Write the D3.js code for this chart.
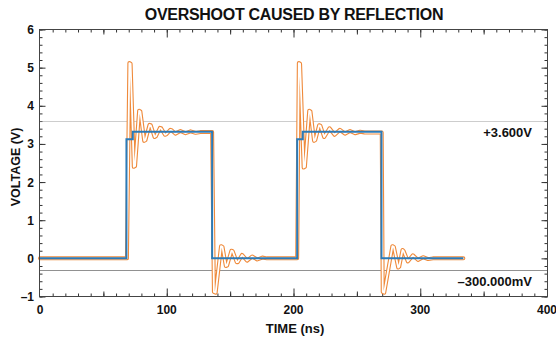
<!DOCTYPE html>
<html>
<head>
<meta charset="utf-8">
<script src="https://cdn.jsdelivr.net/npm/d3@7"></script>
<style>
  html, body { margin: 0; padding: 0; background: #fff; }
  svg { display: block; }
  text { font-family: "Liberation Sans", Arial, Helvetica, sans-serif; font-weight: bold; fill: #111; }
</style>
</head>
<body>
<svg id="chart" width="556" height="338"></svg>
<script>
// ---------------- data ----------------
const title = "OVERSHOOT CAUSED BY REFLECTION";
const xLabel = "TIME (ns)";
const yLabel = "VOLTAGE (V)";
const xTickLabels = [0, 100, 200, 300, 400];
const yTickLabels = [-1, 0, 1, 2, 3, 4, 5, 6];

// driven signal (blue)
const blueTime = [0, 68.2, 68.2, 73.2, 73.2, 135.8, 135.8, 202.9, 202.9, 207.3, 207.3, 269.4, 269.4, 334];
const blueVolt = [0, 0, 3.12, 3.12, 3.32, 3.32, 0, 0, 3.12, 3.12, 3.32, 3.32, 0, 0];

// reflected signal (orange)
const orangeTime = [
  0, 68.6, 70.5, 71.5, 74.0, 75.0, 78.2, 79.2, 82.2, 83.2, 86.4, 87.4, 90.4, 91.4,
  94.6, 95.6, 98.6, 99.6, 102.8, 103.8, 106.8, 110.8, 114.8, 118.8, 122.8, 126.5, 135.8,
  137.2, 138.6, 142.8, 144.0, 146.6, 147.6, 151.0, 152.0, 155.2, 156.0, 159.4, 163.4,
  167.4, 171.4, 175.4, 179.0, 202.9,
  204.2, 205.2, 208.0, 209.0, 212.4, 213.4, 216.2, 217.2, 220.2, 221.2, 224.2, 228.4,
  232.4, 236.6, 240.6, 244.6, 248.6, 252.6, 256.0, 269.6,
  270.4, 271.6, 278.0, 279.2, 282.6, 283.4, 286.0, 286.8, 290.2, 294.2, 298.2, 302.2,
  306.2, 310.0, 334.0
];
const orangeVolt = [
  0, 0, 5.12, 5.10, 2.40, 2.42, 3.87, 3.85, 3.08, 3.10, 3.50, 3.49, 3.18, 3.20,
  3.42, 3.41, 3.24, 3.25, 3.37, 3.36, 3.27, 3.34, 3.28, 3.33, 3.29, 3.31, 3.31,
  -0.88, -0.90, 0.32, 0.30, -0.20, -0.19, 0.20, 0.19, -0.10, -0.10, 0.09, -0.06,
  0.05, -0.03, 0.02, 0, 0,
  5.12, 5.10, 2.38, 2.40, 3.87, 3.85, 3.08, 3.10, 3.49, 3.48, 3.18, 3.41,
  3.24, 3.37, 3.27, 3.34, 3.28, 3.32, 3.30, 3.30,
  -0.88, -0.90, 0.32, 0.30, -0.24, -0.22, 0.22, 0.20, -0.08, 0.08, -0.04, 0.03,
  -0.02, 0, 0
];

// reference levels
const refLevels = [3.6, -0.3];
const refLabels = ["+3.600V", "\u2013300.000mV"];

// ---------------- chart ----------------
const svg = d3.select("#chart");
const mLeft = 39.5, mRight = 547.5, mTop = 29.5, mBottom = 296.5;

const x = d3.scaleLinear().domain([0, 400]).range([mLeft + 0.5, mRight - 0.5]);
const y = d3.scaleLinear().domain([-1, 6]).range([mBottom, mTop]);

const tickColor = "#333";

function styleAxis(g) {
  g.select(".domain").remove();
  g.selectAll(".tick line").attr("stroke", tickColor).attr("stroke-width", 1);
  g.selectAll(".tick text").remove();
}

// x ticks: bottom (inward) and top (inward)
const xMinor = d3.range(10, 400, 10);
const xMid = d3.range(50, 400, 100);
const xMaj = d3.range(100, 400, 100);
[[xMinor, 3], [xMid, 5], [xMaj, 8]].forEach(([vals, len]) => {
  svg.append("g").attr("transform", `translate(0,${mBottom})`)
    .call(d3.axisBottom(x).tickValues(vals).tickSize(-len).tickFormat("")).call(styleAxis);
  svg.append("g").attr("transform", `translate(0,${mTop})`)
    .call(d3.axisTop(x).tickValues(vals).tickSize(-len).tickFormat("")).call(styleAxis);
});
// y ticks: left and right (inward)
const yMinor = d3.range(-1, 6.001, 0.2);
const yMaj = d3.range(-1, 7, 1);
[[yMinor, 3], [yMaj, 6]].forEach(([vals, len]) => {
  svg.append("g").attr("transform", `translate(${mLeft},0)`)
    .call(d3.axisLeft(y).tickValues(vals).tickSize(-len).tickFormat("")).call(styleAxis);
  svg.append("g").attr("transform", `translate(${mRight},0)`)
    .call(d3.axisRight(y).tickValues(vals).tickSize(-len).tickFormat("")).call(styleAxis);
});

// tick labels
svg.append("g").selectAll("text").data(xTickLabels).join("text")
  .attr("x", d => x(d)).attr("y", 314)
  .attr("text-anchor", "middle").attr("font-size", 12).text(d => d);
svg.append("g").selectAll("text").data(yTickLabels).join("text")
  .attr("x", 34).attr("y", d => y(d) + 4.5)
  .attr("text-anchor", "end").attr("font-size", 12)
  .text(d => d < 0 ? "\u2013" + Math.abs(d) : d);

// reference dotted lines
const snap = v => Math.round(v) + 0.5;
svg.append("line").attr("x1", mLeft).attr("x2", mRight)
  .attr("y1", snap(y(refLevels[0]))).attr("y2", snap(y(refLevels[0])))
  .attr("stroke", "#9a9a9a").attr("stroke-width", 1).attr("stroke-dasharray", "1,1");
svg.append("line").attr("x1", mLeft).attr("x2", mRight)
  .attr("y1", snap(y(refLevels[1]))).attr("y2", snap(y(refLevels[1])))
  .attr("stroke", "#222").attr("stroke-width", 1).attr("stroke-dasharray", "1,1");

svg.append("text").attr("x", 532).attr("y", y(refLevels[0]) + 16)
  .attr("text-anchor", "end").attr("font-size", 13).text(refLabels[0]);
svg.append("text").attr("x", 532).attr("y", y(refLevels[1]) + 16)
  .attr("text-anchor", "end").attr("font-size", 13).text(refLabels[1]);

// series
const line = d3.line().x(d => x(d[0])).y(d => y(d[1]));
const orangeData = orangeTime.map((t, i) => [t, orangeVolt[i]]);
const blueData = blueTime.map((t, i) => [t, blueVolt[i]]);

svg.append("path").datum(orangeData).attr("d", line)
  .attr("fill", "none").attr("stroke", "#ef8a3b").attr("stroke-width", 4)
  .attr("stroke-linejoin", "round").attr("stroke-linecap", "round");
svg.append("path").datum(orangeData).attr("d", line)
  .attr("fill", "none").attr("stroke", "#fff").attr("stroke-width", 1.8)
  .attr("stroke-linejoin", "round").attr("stroke-linecap", "round");
svg.append("path").datum(blueData).attr("d", line)
  .attr("fill", "none").attr("stroke", "#2b7bb9").attr("stroke-width", 2)
  .attr("stroke-linejoin", "miter");

// frame
svg.append("rect").attr("x", mLeft).attr("y", mTop)
  .attr("width", mRight - mLeft).attr("height", mBottom - mTop)
  .attr("fill", "none").attr("stroke", "#444").attr("stroke-width", 1);

// titles
svg.append("text").attr("x", 294).attr("y", 19.5)
  .attr("text-anchor", "middle").attr("font-size", 16)
  .attr("letter-spacing", -0.3).text(title);
svg.append("text").attr("x", 295).attr("y", 333)
  .attr("text-anchor", "middle").attr("font-size", 13).text(xLabel);
svg.append("text").attr("transform", "translate(20,167) rotate(-90)")
  .attr("text-anchor", "middle").attr("font-size", 12.5).text(yLabel);
</script>
</body>
</html>
